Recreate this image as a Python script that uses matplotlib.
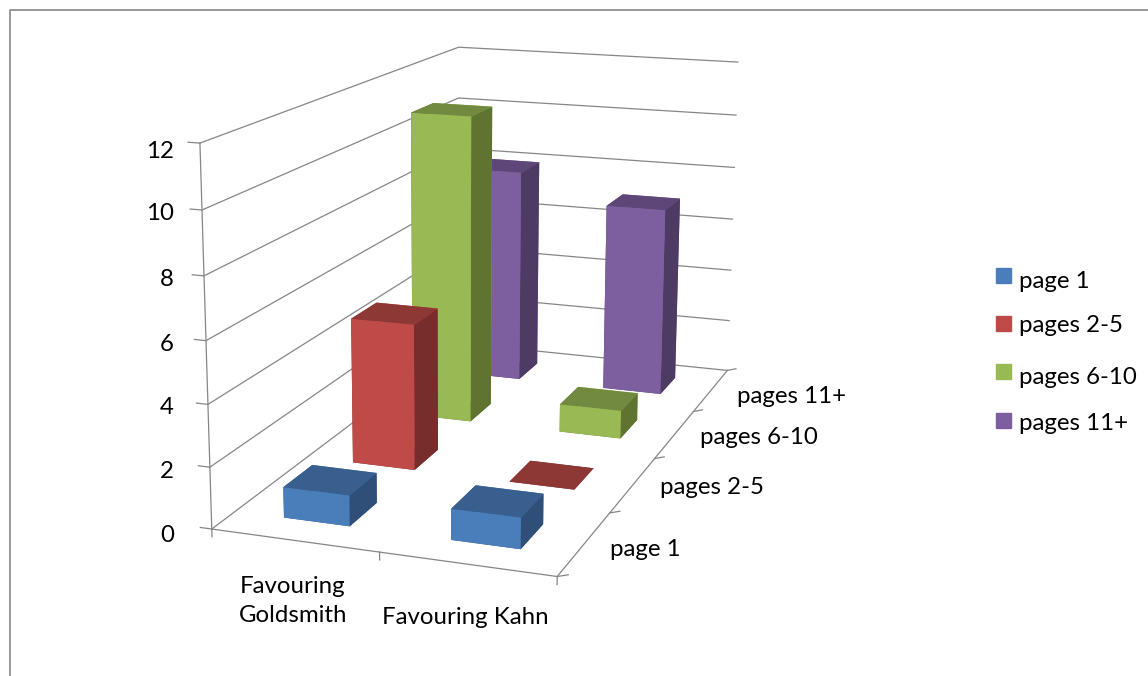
import matplotlib
matplotlib.use("Agg")
import matplotlib.pyplot as plt
from matplotlib.lines import Line2D
from matplotlib.patches import Rectangle

groups = ["Favouring\nGoldsmith", "Favouring Kahn"]
pages = ["page 1", "pages 2-5", "pages 6-10", "pages 11+"]
goldsmith = [1, 5, 11, 8]
kahn = [1, 0, 1, 7]
z_ticks = [0, 2, 4, 6, 8, 10, 12]

front = ["#4A7EBB", "#BE4B48", "#98B954", "#7D5FA0"]
top = ["#385F8E", "#8E3836", "#728A3F", "#5E4778"]
side = ["#2F4F78", "#772D2B", "#5F7431", "#4E3B64"]
grid = "#868686"

W, H = 1148, 676
fig = plt.figure(figsize=(W / 100, H / 100), dpi=100)
# camera and box were fitted to the axis corners of the picture
ax = fig.add_axes([99.49 / W, 2.26 / H, 781.06 / W, 781.06 / H], projection="3d", computed_zorder=False)
ax.set_xlim(0, 2)
ax.set_ylim(0, 4)
ax.set_zlim(0, 12)
ax.view_init(elev=14.102, azim=-71.043, roll=-0.323)
ax.set_proj_type("persp", focal_length=0.4863)
ax.set_box_aspect((0.9244, 1.825, 1))
ax.set_axis_off()

# walls, floor edges and ticks
for z in z_ticks:
    ax.plot([0, 0, 2], [0, 4, 4], [z, z, z], color=grid, lw=0.9, zorder=1)
    ax.plot([-0.07, 0], [0, 0], [z, z], color=grid, lw=0.9, zorder=1)
ax.plot([0, 0], [0, 0], [0, 12], color=grid, lw=0.9, zorder=1)
ax.plot([0, 2, 2], [0, 0, 4], [0, 0, 0], color=grid, lw=0.9, zorder=1)
for i in range(3):
    ax.plot([i, i], [0, 0], [0, -0.25], color=grid, lw=0.9, zorder=1)
for j in range(5):
    ax.plot([2, 2.06], [j, j], [0, 0.1], color=grid, lw=0.9, zorder=1)

# bars, back row first
order = 3
for j in range(3, -1, -1):
    for i, vals in enumerate([goldsmith, kahn]):
        cols = [side[j], top[j], front[j], front[j], side[j], side[j]]
        ax.bar3d(i + 0.3, j + 0.3, 0, 0.4, 0.4, vals[j], color=cols, shade=False, zorder=order)
        order += 1


def put(x, y, s, **kw):
    fig.text(x / W, 1 - y / H, s, family="Lato", fontsize=17.3, color="black", va="center", **kw)


for z, y in zip(z_ticks, [535, 471, 407, 344, 279, 213, 151]):
    put(174, y, str(z), ha="right")
put(293, 601, groups[0], ha="center", multialignment="center", linespacing=1.42)
put(465, 617, groups[1], ha="center")
for name, x, y in zip(pages, [610, 660, 700, 737], [550, 488, 437, 397]):
    put(x, y, name, ha="left")

# legend
square_y = [275, 323, 371, 420]
label_y = [282, 325, 378, 423]
for k, name in enumerate(pages):
    fig.add_artist(Rectangle((996 / W, 1 - (square_y[k] + 7.5) / H), 15 / W, 15 / H,
                             color=front[k], transform=fig.transFigure))
    put(1019, label_y[k], name, ha="left")

fig.add_artist(Line2D([10 / W, 10 / W, 1], [0, 1 - 10 / H, 1 - 10 / H], color=grid, lw=1.2))
fig.savefig("out.png", dpi=100)
